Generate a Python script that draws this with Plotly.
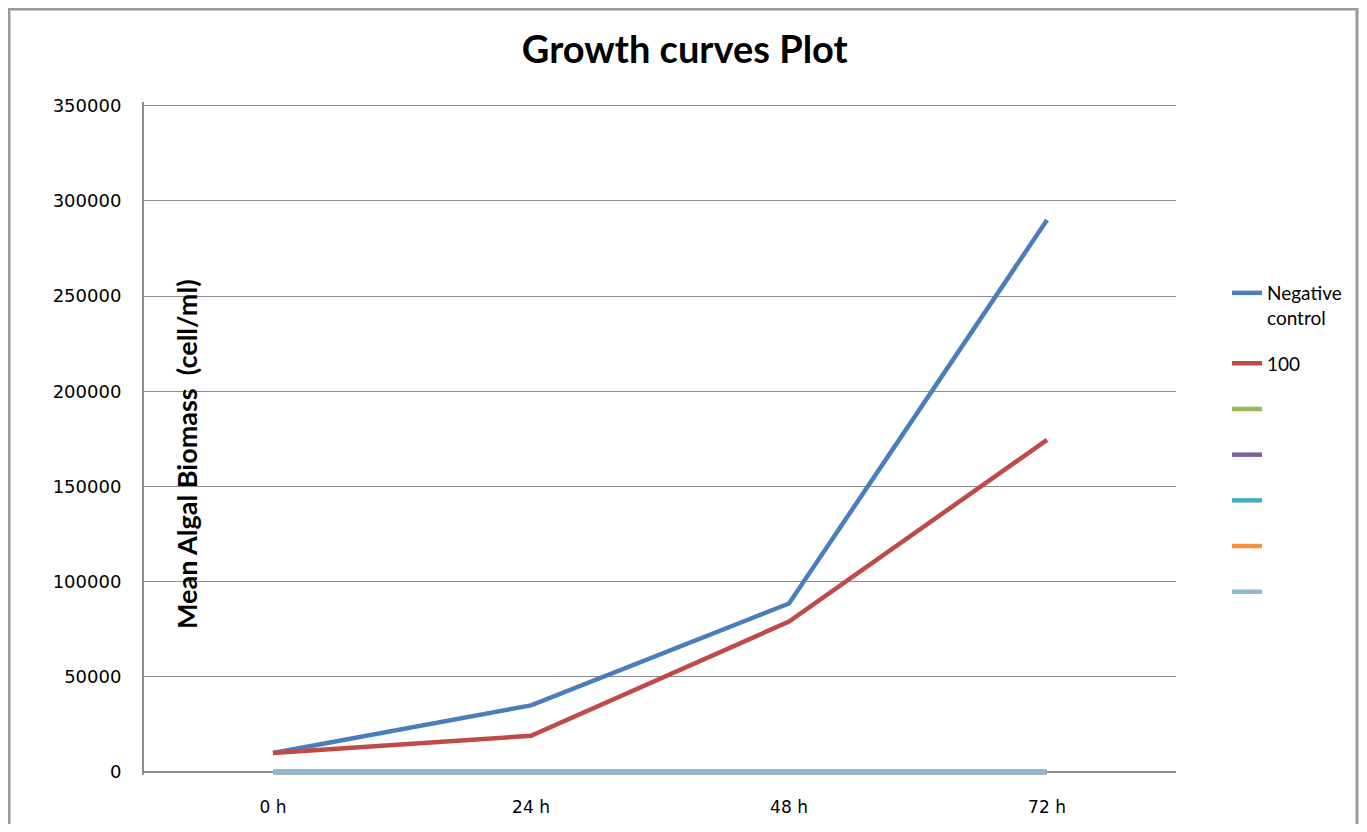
import plotly.graph_objects as go

categories = ["0 h", "24 h", "48 h", "72 h"]
series_names = ["Negative<br>control", "100", " ", "  ", "   ", "    ", "     "]
negative_control = [10000, 35000, 88500, 290000]
conc_100 = [10000, 19000, 79000, 174500]
s3 = [0, 0, 0, 0]
s4 = [0, 0, 0, 0]
s5 = [0, 0, 0, 0]
s6 = [0, 0, 0, 0]
s7 = [0, 0, 0, 0]
series_values = [negative_control, conc_100, s3, s4, s5, s6, s7]
colors = ["#4A7EBB", "#BE4B48", "#98B954", "#7D60A0", "#46AAC5", "#F69240", "#8EB9D4"]
y_ticks = [0, 50000, 100000, 150000, 200000, 250000, 300000, 350000]

fig = go.Figure()
for i, (name, vals) in enumerate(zip(series_names, series_values)):
    fig.add_trace(go.Scatter(
        x=categories, y=vals, name=name, mode="lines",
        line=dict(color=colors[i], width=4.5),
        legendgroup=f"g{i}",
    ))

H = 673.0
fig.update_layout(
    width=1351, height=816,
    paper_bgcolor="white", plot_bgcolor="white",
    margin=dict(l=136, r=183, t=94, b=49, pad=0),
    title=dict(text="<b>Growth curves Plot</b>", x=0.524, xref="paper", xanchor="center",
               y=1 - 42 / 816, yref="container", yanchor="middle",
               font=dict(family="Lato", size=38, color="black")),
    xaxis=dict(type="category", range=[-0.5, 3.5], showgrid=False, showline=False,
               ticks="", ticklabelstandoff=20, automargin=False,
               tickfont=dict(family="DejaVu Sans", size=17, color="black"),
               zeroline=False),
    yaxis=dict(range=[-1600, 352000], tickvals=y_ticks, ticktext=[str(v) for v in y_ticks],
               showgrid=True, gridcolor="#8C8C8C", gridwidth=1,
               showline=True, linecolor="#8C8C8C", linewidth=2,
               zeroline=True, zerolinecolor="#8C8C8C", zerolinewidth=2,
               ticks="", ticklabelstandoff=17, automargin=False,
               tickfont=dict(family="DejaVu Sans", size=18, color="black")),
    legend=dict(x=1.0494, xanchor="left", y=(775 - 274) / H, yanchor="top",
                font=dict(family="Lato", size=19, color="black"),
                tracegroupgap=18, valign="top", bgcolor="rgba(0,0,0,0)"),
    showlegend=True,
)

fig.add_annotation(text="<b>Mean Algal Biomass  (cell/ml)</b>", textangle=-90,
                   x=(187 - 144) / 1032, y=(775 - 454) / H, xref="paper", yref="paper",
                   xanchor="center", yanchor="middle",
                   showarrow=False, font=dict(family="Lato", size=27, color="black"))

fig.add_shape(type="rect", xref="paper", yref="paper",
              x0=(9 - 144) / 1032, x1=(1357 - 144) / 1032,
              y0=-0.2, y1=(775 - 9) / H,
              line=dict(color="#9A9A9A", width=3), layer="below")

fig.write_html("out.html")
